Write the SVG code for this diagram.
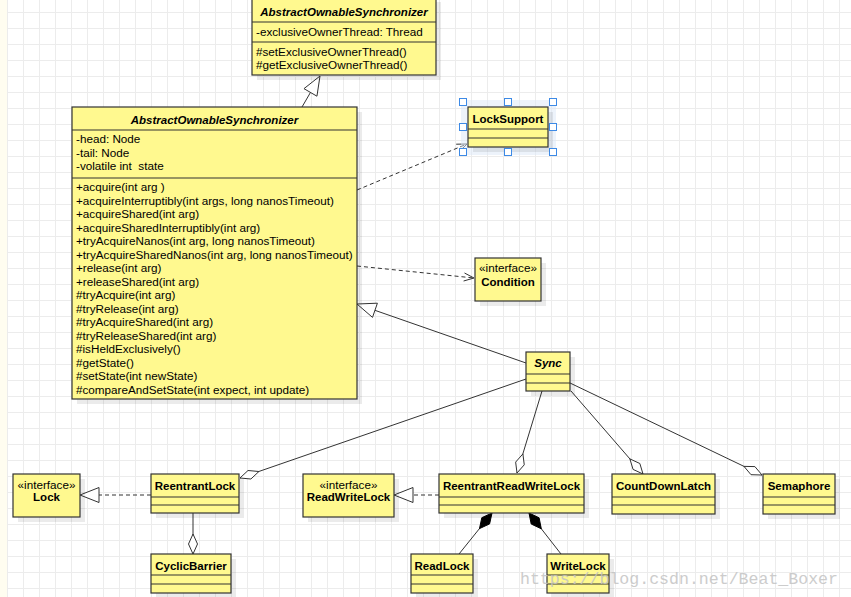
<svg xmlns="http://www.w3.org/2000/svg" width="851" height="597" viewBox="0 0 851 597">
<defs>
<pattern id="grid" x="7" y="12" width="16" height="16" patternUnits="userSpaceOnUse">
<path d="M0 0.5H16M0.5 0V16" fill="none" stroke="#ececec" stroke-width="1"/>
</pattern>
<style>
.box{fill:#fff98f;stroke:#333;stroke-width:1.2}
.sh{fill:#000;opacity:0.08}
.sep{stroke:#333;stroke-width:1.2}
.t{font-family:"Liberation Sans",Arial,sans-serif;font-size:11.7px;fill:#000}
.b{font-weight:bold;font-size:11.5px}
.bi{font-weight:bold;font-style:italic;font-size:11.5px}
.c{text-anchor:middle}
.ln{fill:none;stroke:#333;stroke-width:1}
.dash{stroke-dasharray:4 3}
.hol{fill:#fff;stroke:#333;stroke-width:1}
.fil{fill:#000;stroke:#000;stroke-width:1}
.hdl{fill:#fff;stroke:#3d8ae6;stroke-width:1}
.wm{font-family:"Liberation Mono","DejaVu Sans Mono",monospace;font-size:16.5px;fill:#c4c4c4;opacity:0.85}
</style>
</defs>
<rect width="851" height="597" fill="#fff"/>
<rect width="851" height="597" fill="url(#grid)"/>
<rect x="0" y="0" width="7" height="597" fill="#fffdf0"/>

<g id="connectors">
<line class="ln" x1="302" y1="107" x2="310.5" y2="92.4"/>
<polygon class="hol" points="320,76 316.95,96.2 303.97,88.67"/>
<line class="ln" x1="526" y1="363" x2="374.9" y2="310.3"/>
<polygon class="hol" points="357,304 372.5,317.4 377.4,303.2"/>
<line class="ln dash" x1="357" y1="190" x2="467" y2="144"/>
<polyline class="ln" points="456.2,144.2 467,144 459.3,151.6"/>
<line class="ln dash" x1="357" y1="266" x2="474" y2="278"/>
<polyline class="ln" points="464.5,273 474,278 463.6,281"/>
<line class="ln dash" x1="151" y1="495" x2="99" y2="495"/>
<polygon class="hol" points="80,495 99,487.5 99,502.5"/>
<line class="ln dash" x1="439" y1="495" x2="413" y2="495"/>
<polygon class="hol" points="394,495 413,487.5 413,502.5"/>
<line class="ln" x1="526" y1="379" x2="240" y2="478"/>
<polygon class="hol" points="240,478 248,470.5 258.9,471.5 250.9,479"/>
<line class="ln" x1="542" y1="391" x2="517" y2="473"/>
<polygon class="hol" points="517,473 515.65,462.1 522.9,453.9 524.25,464.8"/>
<line class="ln" x1="571" y1="391" x2="643" y2="474"/>
<polygon class="hol" points="643,474 639.85,463.5 629.9,458.9 633.05,469.4"/>
<line class="ln" x1="570" y1="383" x2="762" y2="475"/>
<polygon class="hol" points="762,475 754.9,466.6 743.96,466.36 751,474.7"/>
<line class="ln" x1="193" y1="513" x2="193" y2="554"/>
<polygon class="hol" points="193,554 197.5,544 193,534 188.5,544"/>
<line class="ln" x1="492" y1="513" x2="459" y2="554"/>
<polygon class="fil" points="492,513 489.6,523.9 479.5,528.6 481.8,517.7"/>
<line class="ln" x1="529" y1="513" x2="561" y2="554"/>
<polygon class="fil" points="529,513 539.1,517.8 541.3,528.8 531.2,524"/>
</g>

<g id="AbstractOwnableSynchronizer">
<rect class="sh" x="257" y="2" width="184" height="78"/>
<rect class="box" x="252" y="-3" width="184" height="78"/>
<line class="sep" x1="252" y1="22" x2="436" y2="22"/>
<line class="sep" x1="252" y1="42" x2="436" y2="42"/>
<text class="t bi c" x="344" y="15.5">AbstractOwnableSynchronizer</text>
<text class="t" x="256" y="35.5">-exclusiveOwnerThread: Thread</text>
<text class="t" x="256" y="56">#setExclusiveOwnerThread()</text>
<text class="t" x="256" y="68.5">#getExclusiveOwnerThread()</text>
</g>

<g id="AbstractQueuedSynchronizer">
<rect class="sh" x="77" y="112" width="285" height="292"/>
<rect class="box" x="72" y="107" width="285" height="292"/>
<line class="sep" x1="72" y1="130" x2="357" y2="130"/>
<line class="sep" x1="72" y1="178" x2="357" y2="178"/>
<text class="t bi c" x="214.5" y="123.5">AbstractOwnableSynchronizer</text>
<text class="t" x="76" y="143">-head: Node</text>
<text class="t" x="76" y="156.5">-tail: Node</text>
<text class="t" x="76" y="170" xml:space="preserve">-volatile int  state</text>
<text class="t" x="76" y="191" xml:space="preserve">+acquire(int arg )</text>
<text class="t" x="76" y="204.5">+acquireInterruptibly(int args, long nanosTimeout)</text>
<text class="t" x="76" y="218">+acquireShared(int arg)</text>
<text class="t" x="76" y="231.5">+acquireSharedInterruptibly(int arg)</text>
<text class="t" x="76" y="245">+tryAcquireNanos(int arg, long nanosTimeout)</text>
<text class="t" x="76" y="258.5">+tryAcquireSharedNanos(int arg, long nanosTimeout)</text>
<text class="t" x="76" y="272">+release(int arg)</text>
<text class="t" x="76" y="285.5">+releaseShared(int arg)</text>
<text class="t" x="76" y="299">#tryAcquire(int arg)</text>
<text class="t" x="76" y="312.5">#tryRelease(int arg)</text>
<text class="t" x="76" y="326">#tryAcquireShared(int arg)</text>
<text class="t" x="76" y="339.5">#tryReleaseShared(int arg)</text>
<text class="t" x="76" y="353">#isHeldExclusively()</text>
<text class="t" x="76" y="366.5">#getState()</text>
<text class="t" x="76" y="380">#setState(int newState)</text>
<text class="t" x="76" y="393.5">#compareAndSetState(int expect, int update)</text>
</g>

<g id="LockSupport">
<rect x="461" y="100" width="95" height="55" fill="#dbe7f8" opacity="0.5"/>
<rect class="sh" x="473" y="112" width="80" height="40"/>
<rect class="box" x="468" y="107" width="80" height="40"/>
<line class="sep" x1="468" y1="129" x2="548" y2="129"/>
<line class="sep" x1="468" y1="138" x2="548" y2="138"/>
<text class="t b c" x="508" y="123">LockSupport</text>
<rect class="hdl" x="459.5" y="98.5" width="7" height="7"/>
<rect class="hdl" x="504.5" y="98.5" width="7" height="7"/>
<rect class="hdl" x="549.5" y="98.5" width="7" height="7"/>
<rect class="hdl" x="459.5" y="123.5" width="7" height="7"/>
<rect class="hdl" x="549.5" y="123.5" width="7" height="7"/>
<rect class="hdl" x="459.5" y="148.5" width="7" height="7"/>
<rect class="hdl" x="504.5" y="148.5" width="7" height="7"/>
<rect class="hdl" x="549.5" y="148.5" width="7" height="7"/>
</g>

<g id="Condition">
<rect class="sh" x="480" y="263" width="66" height="43"/>
<rect class="box" x="475" y="258" width="66" height="43"/>
<text class="t c" x="508" y="272">«interface»</text>
<text class="t b c" x="508" y="285.5">Condition</text>
</g>

<g id="Sync">
<rect class="sh" x="531" y="357" width="44" height="39"/>
<rect class="box" x="526" y="352" width="44" height="39"/>
<line class="sep" x1="526" y1="374" x2="570" y2="374"/>
<line class="sep" x1="526" y1="383" x2="570" y2="383"/>
<text class="t bi c" x="548" y="367">Sync</text>
</g>

<g id="Lock">
<rect class="sh" x="18" y="479" width="67" height="43"/>
<rect class="box" x="13" y="474" width="67" height="43"/>
<text class="t c" x="46.5" y="489">«interface»</text>
<text class="t b c" x="46.5" y="501">Lock</text>
</g>

<g id="ReentrantLock">
<rect class="sh" x="156" y="479" width="88" height="39"/>
<rect class="box" x="151" y="474" width="88" height="39"/>
<line class="sep" x1="151" y1="497" x2="239" y2="497"/>
<line class="sep" x1="151" y1="505" x2="239" y2="505"/>
<text class="t b c" x="195" y="490">ReentrantLock</text>
</g>

<g id="CyclicBarrier">
<rect class="sh" x="156" y="559" width="80" height="39"/>
<rect class="box" x="151" y="554" width="80" height="39"/>
<line class="sep" x1="151" y1="575" x2="231" y2="575"/>
<line class="sep" x1="151" y1="584" x2="231" y2="584"/>
<text class="t b c" x="191" y="570">CyclicBarrier</text>
</g>

<g id="ReadWriteLock">
<rect class="sh" x="308" y="479" width="91" height="43"/>
<rect class="box" x="303" y="474" width="91" height="43"/>
<text class="t c" x="348.5" y="489">«interface»</text>
<text class="t b c" x="348.5" y="501">ReadWriteLock</text>
</g>

<g id="ReentrantReadWriteLock">
<rect class="sh" x="444" y="479" width="145" height="39"/>
<rect class="box" x="439" y="474" width="145" height="39"/>
<line class="sep" x1="439" y1="497" x2="584" y2="497"/>
<line class="sep" x1="439" y1="505" x2="584" y2="505"/>
<text class="t b c" x="511.5" y="490">ReentrantReadWriteLock</text>
</g>

<g id="CountDownLatch">
<rect class="sh" x="617" y="479" width="103" height="40"/>
<rect class="box" x="612" y="474" width="103" height="40"/>
<line class="sep" x1="612" y1="497" x2="715" y2="497"/>
<line class="sep" x1="612" y1="505" x2="715" y2="505"/>
<text class="t b c" x="663.5" y="490">CountDownLatch</text>
</g>

<g id="Semaphore">
<rect class="sh" x="768" y="479" width="72" height="40"/>
<rect class="box" x="763" y="474" width="72" height="40"/>
<line class="sep" x1="763" y1="497" x2="835" y2="497"/>
<line class="sep" x1="763" y1="505" x2="835" y2="505"/>
<text class="t b c" x="799" y="490">Semaphore</text>
</g>

<g id="ReadLock">
<rect class="sh" x="416" y="559" width="62" height="39"/>
<rect class="box" x="411" y="554" width="62" height="39"/>
<line class="sep" x1="411" y1="575" x2="473" y2="575"/>
<line class="sep" x1="411" y1="584" x2="473" y2="584"/>
<text class="t b c" x="442" y="570">ReadLock</text>
</g>

<g id="WriteLock">
<rect class="sh" x="552" y="559" width="62" height="39"/>
<rect class="box" x="547" y="554" width="62" height="39"/>
<line class="sep" x1="547" y1="575" x2="609" y2="575"/>
<line class="sep" x1="547" y1="584" x2="609" y2="584"/>
<text class="t b c" x="578" y="570">WriteLock</text>
</g>

<text class="wm" x="520" y="583.5" textLength="318" lengthAdjust="spacingAndGlyphs">https://blog.csdn.net/Beat_Boxer</text>
</svg>
